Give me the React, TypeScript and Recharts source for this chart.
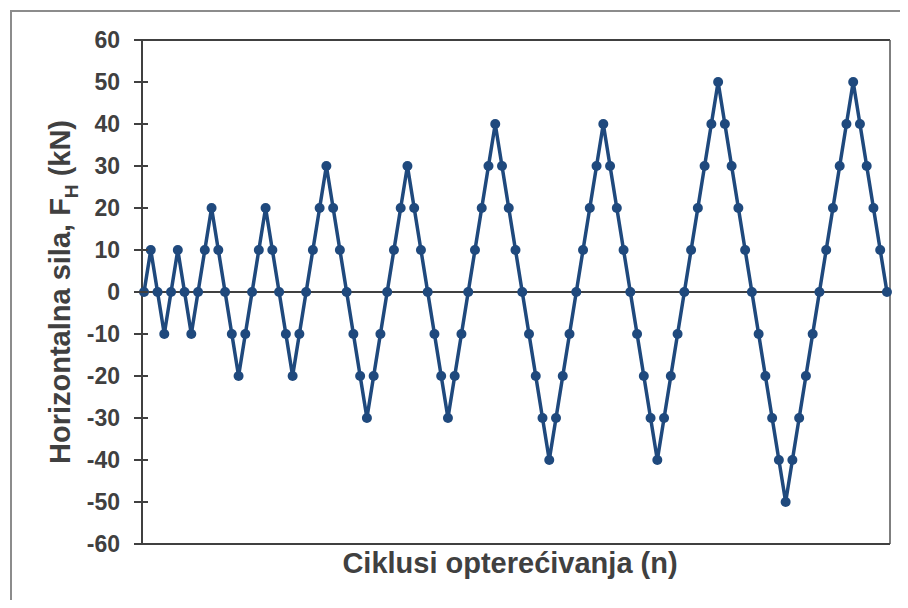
import { LineChart, Line, XAxis, YAxis, ReferenceLine } from "recharts";

const force = [
  0, 10, 0, -10,
  0, 10, 0, -10,
  0, 10, 20, 10, 0, -10, -20, -10,
  0, 10, 20, 10, 0, -10, -20, -10,
  0, 10, 20, 30, 20, 10, 0, -10, -20, -30, -20, -10,
  0, 10, 20, 30, 20, 10, 0, -10, -20, -30, -20, -10,
  0, 10, 20, 30, 40, 30, 20, 10, 0, -10, -20, -30, -40, -30, -20, -10,
  0, 10, 20, 30, 40, 30, 20, 10, 0, -10, -20, -30, -40, -30, -20, -10,
  0, 10, 20, 30, 40, 50, 40, 30, 20, 10, 0, -10, -20, -30, -40, -50, -40, -30, -20, -10,
  0, 10, 20, 30, 40, 50, 40, 30, 20, 10, 0,
];

const yTicks = [-60, -50, -40, -30, -20, -10, 0, 10, 20, 30, 40, 50, 60];

const data = force.map((f, i) => ({ step: i, force: f }));
const lastStep = force.length - 1;

const TEXT = "#404040";
const BLUE = "#1F497D";
const FONT = "'Liberation Sans', Arial, sans-serif";

function YTick(props: any) {
  const { x, y, payload } = props;
  return (
    <g>
      <line x1={x - 8} x2={x + 6} y1={y} y2={y} stroke={TEXT} strokeWidth={2} />
      <text
        x={x - 22}
        y={y}
        dy="0.36em"
        textAnchor="end"
        fontFamily={FONT}
        fontWeight="bold"
        fontSize={23}
        fill={TEXT}
      >
        {payload.value}
      </text>
    </g>
  );
}

function YTitle(props: any) {
  const { viewBox } = props;
  const cy = viewBox.y + viewBox.height / 2;
  const x = 58;
  return (
    <text
      x={x}
      y={cy}
      transform={`rotate(-90 ${x} ${cy})`}
      textAnchor="middle"
      fontFamily={FONT}
      fontWeight="bold"
      fontSize={29}
      fill={TEXT}
    >
      Horizontalna sila, F
      <tspan fontSize={19} dy={8}>H</tspan>
      <tspan dy={-8}> (kN)</tspan>
    </text>
  );
}

function XTitle(props: any) {
  const { viewBox } = props;
  const cx = viewBox.x + viewBox.width / 2 - 6;
  return (
    <text
      x={cx}
      y={561}
      textAnchor="middle"
      fontFamily={FONT}
      fontWeight="bold"
      fontSize={29}
      fill={TEXT}
    >
      Ciklusi opterećivanja (n)
    </text>
  );
}

export default function App() {
  return (
    <div style={{ paddingTop: 2, paddingLeft: 2 }}>
      <div
        style={{
          width: 888,
          height: 588,
          borderTop: "2px solid #8c8c8c",
          borderLeft: "2px solid #8c8c8c",
          background: "#fff",
        }}
      >
        <LineChart
          width={888}
          height={588}
          data={data}
          margin={{ top: 28, right: 10, left: 50, bottom: 26 }}
        >
          <XAxis
            type="number"
            dataKey="step"
            domain={[-0.3, lastStep + 0.45]}
            tick={false}
            tickLine={false}
            axisLine={{ stroke: TEXT, strokeWidth: 2 }}
            height={30}
            label={{ content: XTitle }}
          />
          <YAxis
            type="number"
            domain={[-60, 60]}
            ticks={yTicks}
            interval={0}
            width={80}
            tickSize={0}
            tickMargin={0}
            tickLine={false}
            tick={YTick}
            axisLine={{ stroke: TEXT, strokeWidth: 2 }}
            label={{ content: YTitle }}
          />
          <ReferenceLine y={60} stroke={TEXT} strokeWidth={2} />
          <ReferenceLine x={lastStep + 0.45} stroke="#555" strokeWidth={1.5} />
          <ReferenceLine y={0} stroke={TEXT} strokeWidth={2} />
          <Line
            type="linear"
            dataKey="force"
            stroke={BLUE}
            strokeWidth={3.5}
            dot={{ r: 5, fill: BLUE, stroke: BLUE, strokeWidth: 0 }}
            activeDot={false}
            isAnimationActive={false}
          />
        </LineChart>
      </div>
    </div>
  );
}
